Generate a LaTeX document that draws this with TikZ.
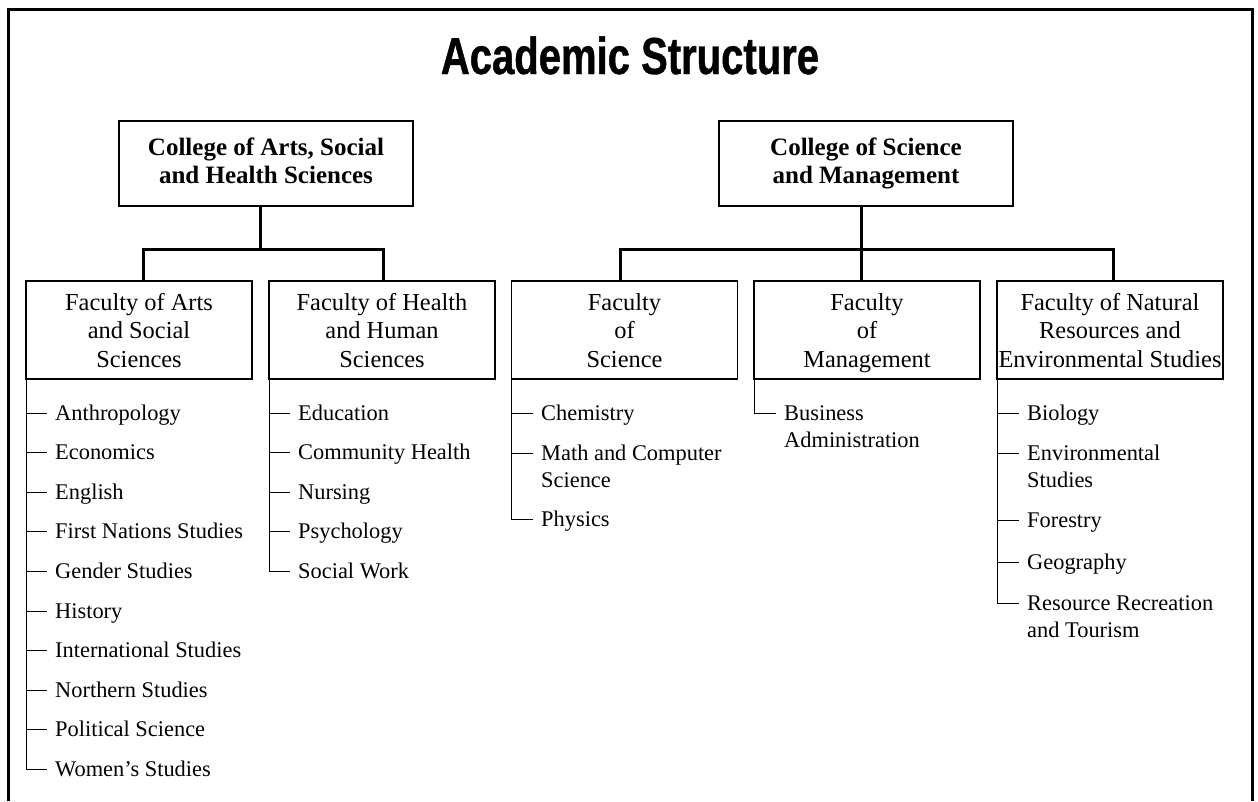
\documentclass[tikz,border=0pt]{standalone}
\usepackage{fontspec}
\setmainfont{Liberation Serif}
\newfontfamily\titlefont{Liberation Sans}[FakeStretch=0.77,FakeBold=0.8]
\begin{document}
\begin{tikzpicture}[x=1pt,y=-1pt,
  frame/.style={line width=3pt},
  titletext/.style={anchor=base,inner sep=0pt,font={\titlefont\bfseries\fontsize{52}{56}\selectfont}},
  college/.style={draw,line width=1.3pt,outer sep=0pt,minimum width=294pt,minimum height=85pt,inner sep=0pt,font={\fontsize{25}{28}\selectfont\bfseries}},
  faculty/.style={draw,line width=1.3pt,outer sep=0pt,minimum width=226pt,minimum height=98pt,inner sep=0pt,font={\fontsize{24.4}{28.5}\selectfont}},
  conn/.style={line width=3pt},
  item/.style={anchor=base west,inner sep=0pt,font={\fontsize{22.4}{27}\selectfont}},
  tick/.style={line width=1pt}]
\useasboundingbox (0,0) rectangle (1258,801);
\draw[frame] (8.5,801) -- (8.5,9.5) -- (1252.5,9.5) -- (1252.5,801);

\node[titletext] (title) at (630,74) {Academic Structure};

\node[college] (c1) at (266,163.5) {\begin{tabular}{@{}c@{}}College of Arts, Social\\and Health Sciences\end{tabular}};
\node[college] (c2) at (866,163.5) {\begin{tabular}{@{}c@{}}College of Science\\and Management\end{tabular}};

\node[faculty] (fa) at (139,330) {\raisebox{-3pt}[\height][\depth]{\begin{tabular}{@{}c@{}}Faculty of Arts\\and Social\\Sciences\end{tabular}}};
\node[faculty] (fh) at (382,330) {\raisebox{-3pt}[\height][\depth]{\begin{tabular}{@{}c@{}}Faculty of Health\\and Human\\Sciences\end{tabular}}};
\node[faculty] (fs) at (624.5,330) {\raisebox{-3pt}[\height][\depth]{\begin{tabular}{@{}c@{}}Faculty\\of\\Science\end{tabular}}};
\node[faculty] (fm) at (867,330) {\raisebox{-3pt}[\height][\depth]{\begin{tabular}{@{}c@{}}Faculty\\of\\Management\end{tabular}}};
\node[faculty] (fn) at (1110,330) {\raisebox{-3pt}[\height][\depth]{\begin{tabular}{@{}c@{}}Faculty of Natural\\Resources and\\Environmental Studies\end{tabular}}};

% college to faculty connectors
\draw[conn] ([xshift=4pt]fa.north) -- ++(0,-32) -| ([xshift=-6pt]c1.south);
\draw[conn] ([xshift=1pt]fh.north) -- ++(0,-32) -| ([xshift=-6pt]c1.south);
\draw[conn] ([xshift=-4.5pt]fs.north) -- ++(0,-32) -| ([xshift=-5pt]c2.south);
\draw[conn] ([xshift=3pt]fn.north) -- ++(0,-32) -| ([xshift=-5pt]c2.south);
\draw[conn] ([xshift=-5pt]c2.south) -- ([xshift=-5pt]c2.south |- fm.north);

% Faculty of Arts and Social Sciences
\foreach \t [count=\i] in {Anthropology,Economics,English,First Nations Studies,Gender Studies,History,International Studies,Northern Studies,Political Science,Women’s Studies}{
  \node[item] (a\i) at (55,{420+39.6*(\i-1)}) {\t};
  \draw[tick] (fa.south west) |- ([xshift=-8pt,yshift=7pt]a\i.base west);
}
% Faculty of Health and Human Sciences
\foreach \t [count=\i] in {Education,Community Health,Nursing,Psychology,Social Work}{
  \node[item] (h\i) at (298,{420+39.6*(\i-1)}) {\t};
  \draw[tick] (fh.south west) |- ([xshift=-8pt,yshift=7pt]h\i.base west);
}
% Faculty of Science
\node[item] (s1) at (541,420) {Chemistry};
\node[item] (s2) at (541,460) {\begin{tabular}[t]{@{}l@{}}Math and Computer\\Science\end{tabular}};
\node[item] (s3) at (541,526) {Physics};
\foreach \n in {s1,s2,s3}{
  \draw[tick] (fs.south west) |- ([xshift=-8pt,yshift=7pt]\n.base west);
}
% Faculty of Management
\node[item] (m1) at (784,420) {\begin{tabular}[t]{@{}l@{}}Business\\Administration\end{tabular}};
\draw[tick] (fm.south west) |- ([xshift=-8pt,yshift=7pt]m1.base west);
% Faculty of Natural Resources and Environmental Studies
\node[item] (n1) at (1027,420) {Biology};
\node[item] (n2) at (1027,460) {\begin{tabular}[t]{@{}l@{}}Environmental\\Studies\end{tabular}};
\node[item] (n3) at (1027,527) {Forestry};
\node[item] (n4) at (1027,569) {Geography};
\node[item] (n5) at (1027,610) {\begin{tabular}[t]{@{}l@{}}Resource Recreation\\and Tourism\end{tabular}};
\foreach \n in {n1,n2,n3,n4,n5}{
  \draw[tick] (fn.south west) |- ([xshift=-8pt,yshift=7pt]\n.base west);
}
\end{tikzpicture}
\end{document}
